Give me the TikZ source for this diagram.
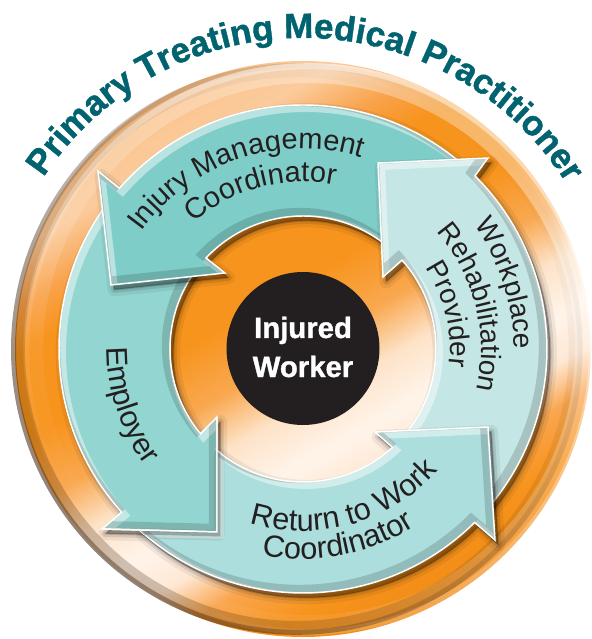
\documentclass[tikz,border=0pt]{standalone}
\usepackage{fontspec}
\setmainfont{Liberation Sans}
\newfontfamily\heavyfont{Liberation Sans}[BoldFeatures={FakeBold=1.2}]
\usetikzlibrary{decorations.text,fadings}
\definecolor{g1}{HTML}{FAC48E}
\definecolor{g2}{HTML}{FBCB9C}
\definecolor{g3}{HTML}{F9A24A}
\definecolor{g4}{HTML}{F7941D}
\definecolor{g5}{HTML}{F9A850}
\definecolor{g6}{HTML}{FDE3C8}
\definecolor{g7}{HTML}{FFF4EA}
\definecolor{g8}{HTML}{FEE8D4}
\definecolor{g9}{HTML}{F9A64F}
\definecolor{g10}{HTML}{F08A14}
\definecolor{rimdark}{HTML}{3A1E05}
\definecolor{tealIMC}{HTML}{7FCDC8}
\definecolor{tealEmp}{HTML}{93D5D1}
\definecolor{tealRTW}{HTML}{ABDEDC}
\definecolor{tealWRP}{HTML}{C4E6E5}
\definecolor{titleteal}{HTML}{00636F}
\definecolor{txtdark}{HTML}{231F20}
\definecolor{hubblack}{HTML}{231F20}
\pgfdeclarehorizontalshading{orangegloss}{100bp}{color(0bp)=(g1); color(25bp)=(g1); color(30bp)=(g2); color(34.4bp)=(g3); color(37.8bp)=(g4); color(44.8bp)=(g4); color(50bp)=(g5); color(54.3bp)=(g6); color(58.7bp)=(g7); color(62.2bp)=(g8); color(65.6bp)=(g9); color(70bp)=(g4); color(75bp)=(g10); color(100bp)=(g10)}
\tikzfading[name=halffade, top color=transparent!100, middle color=transparent!100, bottom color=transparent!0]
\def\pIMC{(48:244) arc[start angle=48, end angle=138.8, radius=244] -- (-205,178) -- (-192,64) -- (-78,76) -- (136.8:133) arc[start angle=136.8, end angle=48, radius=133] -- cycle}
\def\pEmp{(142:244) arc[start angle=142, end angle=222, radius=244] -- (-201,-180) -- (-86,-183) -- (-86,-68) -- (219.6:133) arc[start angle=219.6, end angle=142, radius=133] -- cycle}
\def\pWRP{(-42:244) arc[start angle=-42, end angle=45.2, radius=244] -- (185,191) -- (75,186) -- (80,72) -- (41.9:133) arc[start angle=41.9, end angle=-42, radius=133] -- cycle}
\def\pRTW{(-86,-101.5) -- (-86,-183) -- (227.96:244) arc[start angle=227.96, end angle=314.7, radius=244] -- (192,-191) -- (185,-78) -- (72,-83) -- (312.3:133) arc[start angle=312.3, end angle=229.7, radius=133] -- cycle}
\def\pEmpHead{(222:244) -- (-201,-180) -- (-86,-183) -- (-86,-68) -- (219.6:133) -- cycle}
\newcommand\bevelit[1]{\begin{scope}\clip #1;
  \draw[white, draw opacity=.45, line width=6pt, shift={(3,-3)}] #1;
  \draw[black, draw opacity=.15, line width=7pt, shift={(-3.5,3.5)}] #1;
\end{scope}}
\tikzset{
  arrowsh/.style={
    preaction={fill=black, fill opacity=.10, draw=black, draw opacity=.06, line width=10pt, line join=round, transform canvas={shift={(2.5pt,-3.5pt)}}},
    preaction={fill=black, fill opacity=.12, draw=black, draw opacity=.10, line width=5pt, line join=round, transform canvas={shift={(2.5pt,-3.5pt)}}},
    preaction={fill=black, fill opacity=.15, draw=black, draw opacity=.15, line width=1.5pt, line join=round, transform canvas={shift={(2.5pt,-3.5pt)}}}},
  arrowline/.style={draw=white, line width=1.1pt, line join=miter},
  lbl/.style={decorate, decoration={text along path, text align=center, text={#1}}}
}
\newcommand\lf[1]{\color{txtdark}\fontsize{#1}{#1}\selectfont}
\newcommand\ttl{\color{titleteal}\heavyfont\bfseries\fontsize{26.25pt}{28pt}\selectfont}
\begin{document}
\begin{tikzpicture}[x=0.75pt,y=0.75pt]
\useasboundingbox (-303,-290) rectangle (289,349);
% outer disk
\shade[shading=orangegloss, shading angle=-60] (0,0) circle (288);
\fill[rimdark, fill opacity=.25, path fading=halffade, fading angle=-45, even odd rule] (0,0) circle (288) (0,0) circle (274);
\fill[rimdark, fill opacity=.4, path fading=halffade, fading angle=-45, even odd rule] (0,0) circle (288) (0,0) circle (283);
\fill[white, fill opacity=.35, path fading=halffade, fading angle=135, even odd rule] (0,0) circle (288) (0,0) circle (268);
\fill[white, fill opacity=.45, path fading=halffade, fading angle=135, even odd rule] (0,0) circle (288) (0,0) circle (282);
% arrows
\fill[arrowsh, fill=tealEmp] \pEmp; \bevelit{\pEmp} \draw[arrowline] \pEmp;
\fill[arrowsh, fill=tealIMC] \pIMC; \bevelit{\pIMC} \draw[arrowline] \pIMC;
\fill[arrowsh, fill=tealWRP] \pWRP; \bevelit{\pWRP} \draw[arrowline] \pWRP;
\fill[arrowsh, fill=tealRTW] \pRTW; \bevelit{\pRTW} \draw[arrowline] \pRTW;
\begin{scope}
  \clip \pRTW;
  \fill[black, fill opacity=.12, draw=black, draw opacity=.08, line width=6pt, line join=round, shift={(3.5,-4.5)}] \pEmpHead;
  \fill[black, fill opacity=.12, shift={(3.5,-4.5)}] \pEmpHead;
\end{scope}
\draw[arrowline] (-86,-68) -- (-86,-183) -- (-201,-180);
% hub
\fill[hubblack] (0,0.5) circle (76.5);
\node[text=white, font=\heavyfont\bfseries\fontsize{22pt}{24pt}\selectfont, anchor=base] (hub1) at (0,11) {Injured};
\node[text=white, font=\heavyfont\bfseries\fontsize{22pt}{24pt}\selectfont, anchor=base] (hub2) at (0,-28) {Worker};
% labels
\path[lbl={|\lf{21.75pt}|Injury Management}] (168.5:200) arc[start angle=168.5, end angle=48.5, radius=200];
\path[lbl={|\lf{21.75pt}|Coordinator}] (165:167) arc[start angle=165, end angle=45, radius=167];
\path[lbl={|\lf{22.5pt}|Employer}] (158:196) arc[start angle=158, end angle=238, radius=196];
\path[lbl={|\lf{21pt}|Workplace}] (78:211) arc[start angle=78, end angle=-42, radius=211];
\path[lbl={|\lf{21pt}|Rehabilitation}] (74:178) arc[start angle=74, end angle=-46, radius=178];
\path[lbl={|\lf{21pt}|Provider}] (73.5:147) arc[start angle=73.5, end angle=-46.5, radius=147];
\path[lbl={|\lf{23pt}|Return to Work}] (225.5:182) arc[start angle=225.5, end angle=345.5, radius=182];
\path[lbl={|\lf{23pt}|Coordinator}] (220.5:210) arc[start angle=220.5, end angle=340.5, radius=210];
% title
\path[lbl={|\ttl|Primary Treating Medical Practitioner}] (160:311) arc[start angle=160, end angle=18.7, radius=311];
\end{tikzpicture}
\end{document}
